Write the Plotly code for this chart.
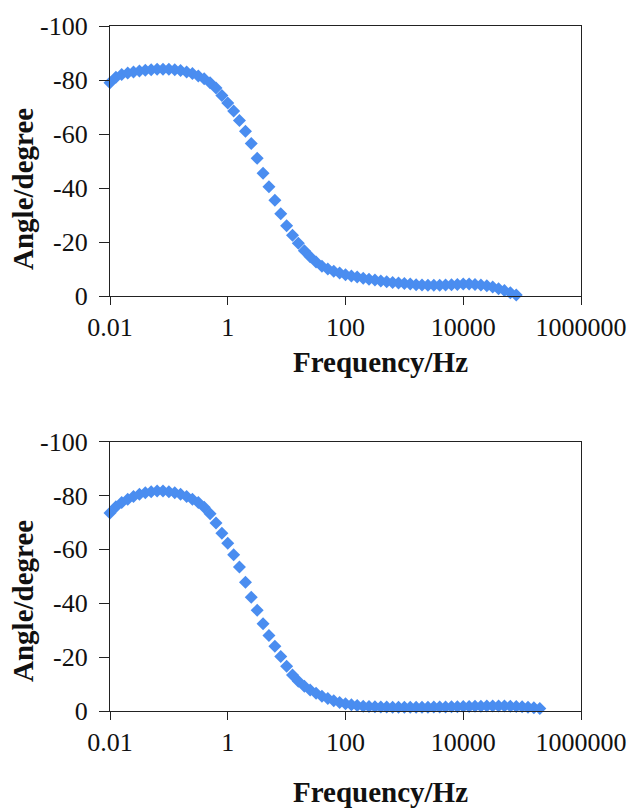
import plotly.graph_objects as go

# ---------------- data ----------------
FREQ_HZ = [
    0.01, 0.0126, 0.0158, 0.02, 0.0251, 0.0316, 0.0398, 0.0501, 0.0631, 0.0794,
    0.1, 0.126, 0.158, 0.2, 0.251, 0.316, 0.398, 0.501, 0.631, 0.794,
    1, 1.26, 1.58, 2, 2.51, 3.16, 3.98, 5.01, 6.31, 7.94,
    10, 12.6, 15.8, 20, 25.1, 31.6, 39.8, 50.1, 63.1, 79.4,
    100, 126, 158, 200, 251, 316, 398, 501, 631, 794,
    1000, 1259, 1585, 1995, 2512, 3162, 3981, 5012, 6310, 7943,
    10000, 12589, 15849, 19953, 25119, 31623, 39811, 50119, 63096, 79433,
    100000, 125893, 158489, 199526,
]

ANGLE_TOP = [
    -79.0, -81.0, -82.0, -82.6, -83.0, -83.3, -83.6, -83.8, -84.0, -84.0,
    -84.0, -83.8, -83.5, -83.0, -82.4, -81.5, -80.5, -79.0, -77.0, -74.3,
    -71.5, -68.5, -65.0, -61.0, -56.5, -51.0, -45.5, -40.5, -35.5, -30.5,
    -26.0, -22.5, -19.5, -16.8, -14.5, -12.6, -11.0, -10.0, -9.2, -8.5,
    -7.9, -7.4, -7.0, -6.6, -6.2, -5.9, -5.6, -5.3, -5.0, -4.8,
    -4.6, -4.4, -4.2, -4.1, -4.0, -4.0, -4.0, -4.1, -4.2, -4.3,
    -4.4, -4.4, -4.3, -4.1, -3.8, -3.3, -2.7, -2.0, -1.2, -0.4,
]

ANGLE_BOTTOM = [
    -73.5, -75.8, -77.4, -78.6, -79.6, -80.4, -81.0, -81.4, -81.6, -81.6,
    -81.4, -81.0, -80.4, -79.6, -78.6, -77.4, -75.6, -73.2, -69.8, -66.0,
    -62.2, -58.0, -53.4, -47.8, -42.2, -37.4, -32.4, -28.0, -24.0, -20.2,
    -16.6, -13.4, -11.0, -9.2, -7.8, -6.6, -5.5, -4.6, -3.8, -3.2,
    -2.7, -2.3, -2.0, -1.8, -1.7, -1.6, -1.5, -1.5, -1.4, -1.4,
    -1.4, -1.4, -1.4, -1.4, -1.4, -1.5, -1.5, -1.5, -1.6, -1.6,
    -1.7, -1.7, -1.8, -1.8, -1.9, -1.9, -1.9, -1.9, -1.8, -1.7,
    -1.6, -1.4, -1.2, -0.9,
]

X_TICK_VALS = [0.01, 1, 100, 10000, 1000000]
X_TICK_TEXT = ["0.01", "1", "100", "10000", "1000000"]
Y_TICK_VALS = [-100, -80, -60, -40, -20, 0]
Y_TICK_TEXT = ["-100", "-80", "-60", "-40", "-20", "0"]

X_TITLE = "Frequency/Hz"
Y_TITLE = "Angle/degree"

# ---------------- figure ----------------
W, H = 634, 810
MARKER_COLOR = "#4a8df0"
FONT = "Liberation Serif, Times New Roman, serif"

fig = go.Figure()
fig.add_trace(go.Scatter(
    x=FREQ_HZ[:len(ANGLE_TOP)], y=ANGLE_TOP, mode="markers",
    marker=dict(symbol="diamond", size=10, color=MARKER_COLOR, line=dict(width=0)),
    xaxis="x", yaxis="y", cliponaxis=False, showlegend=False))
fig.add_trace(go.Scatter(
    x=FREQ_HZ[:len(ANGLE_BOTTOM)], y=ANGLE_BOTTOM, mode="markers",
    marker=dict(symbol="diamond", size=10, color=MARKER_COLOR, line=dict(width=0)),
    xaxis="x2", yaxis="y2", cliponaxis=False, showlegend=False))

def px_x(p):
    return p / W

def px_y(p):
    return 1 - p / H

xdom = [px_x(110), px_x(581)]
top_dom = [px_y(296), px_y(26)]
bot_dom = [px_y(711), px_y(441.5)]

xcommon = dict(
    type="log", range=[-2, 6], tickvals=X_TICK_VALS, ticktext=X_TICK_TEXT,
    ticks="outside", ticklen=8, tickwidth=1.3, tickcolor="#222",
    showline=True, linecolor="#222", linewidth=1.3, mirror=True,
    showgrid=False, zeroline=False, automargin=False,
    tickfont=dict(family=FONT, size=26, color="#111"),
    ticklabelstandoff=0, domain=xdom,
)
ycommon = dict(
    range=[0, -100], tickvals=Y_TICK_VALS, ticktext=Y_TICK_TEXT,
    ticks="outside", ticklen=10, tickwidth=1.3, tickcolor="#222",
    showline=True, linecolor="#222", linewidth=1.3, mirror=True,
    showgrid=False, zeroline=False, automargin=False,
    tickfont=dict(family=FONT, size=26, color="#111"),
    ticklabelstandoff=6,
)

fig.update_layout(
    width=W, height=H,
    margin=dict(l=0, r=0, t=0, b=0),
    paper_bgcolor="white", plot_bgcolor="white",
    xaxis=dict(**xcommon, anchor="y"),
    yaxis=dict(**ycommon, domain=top_dom, anchor="x"),
    xaxis2=dict(**xcommon, anchor="y2"),
    yaxis2=dict(**ycommon, domain=bot_dom, anchor="x2"),
)

title_font = dict(family=FONT, size=29, color="#111")
annots = [
    dict(text="<b>%s</b>" % Y_TITLE, x=px_x(23), y=px_y(189), textangle=-90),
    dict(text="<b>%s</b>" % Y_TITLE, x=px_x(23), y=px_y(601), textangle=-90),
    dict(text="<b>%s</b>" % X_TITLE, x=px_x(380), y=px_y(362)),
    dict(text="<b>%s</b>" % X_TITLE, x=px_x(380), y=px_y(792)),
]
for a in annots:
    fig.add_annotation(xref="paper", yref="paper", showarrow=False,
                       xanchor="center", yanchor="middle", font=title_font, **a)

fig.write_html("out.html")
